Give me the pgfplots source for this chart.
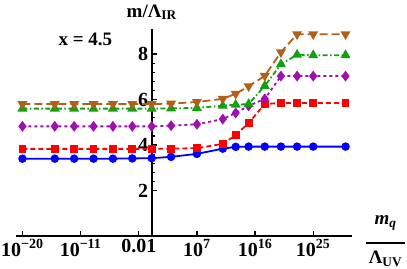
\documentclass[border=0pt]{standalone}
\usepackage{fontspec}
\setmainfont{Liberation Serif}
\usepackage{pgfplots}
\pgfplotsset{compat=1.18}
\definecolor{cblue}{RGB}{0,0,255}
\definecolor{cred}{RGB}{255,0,0}
\definecolor{cpurple}{RGB}{160,16,176}
\definecolor{cgreen}{RGB}{16,160,16}
\definecolor{cbrown}{RGB}{176,96,26}
\begin{document}
\begin{tikzpicture}
\begin{axis}[name=ax, scale only axis, width=336pt, height=207pt,
  xmin=-21, xmax=31, ymin=0, ymax=9.1,
  axis lines=middle,
  x axis line style={-, line width=1.8pt, black},
  y axis line style={-, line width=1.8pt, black},
  xtick={-20,-11,-2,7,16,25},
  xticklabels={10\textsuperscript{−20},10\textsuperscript{−11},0.01,10\textsuperscript{7},10\textsuperscript{16},10\textsuperscript{25}},
  ytick={2,4,6,8}, yticklabels={2,4,6,8}, minor y tick num=4,
  tick align=inside, major tick length=5pt, minor tick length=3pt,
  tick style={line width=1.2pt, black},
  xticklabel style={font=\fontsize{20}{22}\selectfont\bfseries, text=black},
  yticklabel style={font=\fontsize{20}{22}\selectfont\bfseries, text=black},
  clip=false]
\addplot[cblue, line width=1.8pt, mark=*, mark size=3.3pt, mark options={solid}] coordinates {
(-20,3.40)(-15,3.40)(-12,3.40)(-9,3.40)(-6,3.40)(-3,3.41)(0,3.42)(3,3.48)(7,3.61)(11,3.84)(13,3.92)(15,3.93)(17.5,3.93)(20,3.93)(22.5,3.93)(25,3.93)(30,3.93)};
\addplot[cred, line width=1.8pt, dash pattern=on 5pt off 3pt, mark=square*, mark size=3pt, mark options={solid}] coordinates {
(-20,3.83)(-15,3.83)(-12,3.83)(-9,3.83)(-6,3.83)(-3,3.83)(0,3.83)(3,3.84)(7,3.86)(11,4.05)(13,4.43)(15,4.97)(17.5,5.80)(20,5.85)(22.5,5.85)(25,5.85)(30,5.85)};
\addplot[cpurple, line width=1.8pt, dash pattern=on 3pt off 3pt, mark=diamond*, mark size=4pt, mark options={solid}] coordinates {
(-20,4.82)(-15,4.82)(-12,4.82)(-9,4.82)(-6,4.82)(-3,4.82)(0,4.82)(3,4.85)(7,4.91)(11,5.14)(13,5.41)(15,5.72)(17.5,6.03)(20,7.03)(22.5,7.03)(25,7.03)(30,7.03)};
\addplot[cgreen, line width=1.8pt, dash pattern=on 5pt off 2.5pt on 1.5pt off 2.5pt, mark=triangle*, mark size=4pt, mark options={solid}] coordinates {
(-20,5.60)(-15,5.60)(-12,5.60)(-9,5.60)(-6,5.60)(-3,5.60)(0,5.60)(3,5.61)(7,5.63)(11,5.73)(13,5.77)(15,5.80)(17.5,6.60)(20,7.55)(22.5,7.97)(25,7.95)(30,7.95)};
\addplot[cbrown, line width=1.8pt, dash pattern=on 8pt off 4pt, mark=triangle*, mark size=4pt, mark options={solid, rotate=180}] coordinates {
(-20,5.80)(-15,5.80)(-12,5.80)(-9,5.80)(-6,5.80)(-3,5.80)(0,5.80)(3,5.82)(7,5.89)(11,6.03)(13,6.25)(15,6.58)(17.5,7.04)(20,8.08)(22.5,8.87)(25,8.87)(30,8.87)};
\node[anchor=base, font=\fontsize{19}{22}\selectfont\bfseries] at ([yshift=12pt]rel axis cs:0.404,1) {m/Λ\textsubscript{IR}};
\node[anchor=base west, font=\fontsize{19}{22}\selectfont\bfseries] at ([shift={(39pt,-16pt)}]rel axis cs:0,1) {x = 4.5};
\node[font=\fontsize{19}{22}\selectfont\bfseries, inner sep=0pt] at ([shift={(33.5pt,-4pt)}]rel axis cs:1,0) {%
  \begin{tabular}{@{}c@{}}\textit{m}\textsubscript{\textit{q}}\\[-3pt]\rule{39pt}{1.6pt}\\[-2pt]Λ\textsubscript{UV}\end{tabular}};
\end{axis}
\pgfresetboundingbox
\path[use as bounding box] ([shift={(-16pt,-33pt)}]ax.south west) rectangle ([shift={(55pt,29pt)}]ax.north east);
\end{tikzpicture}
\end{document}
